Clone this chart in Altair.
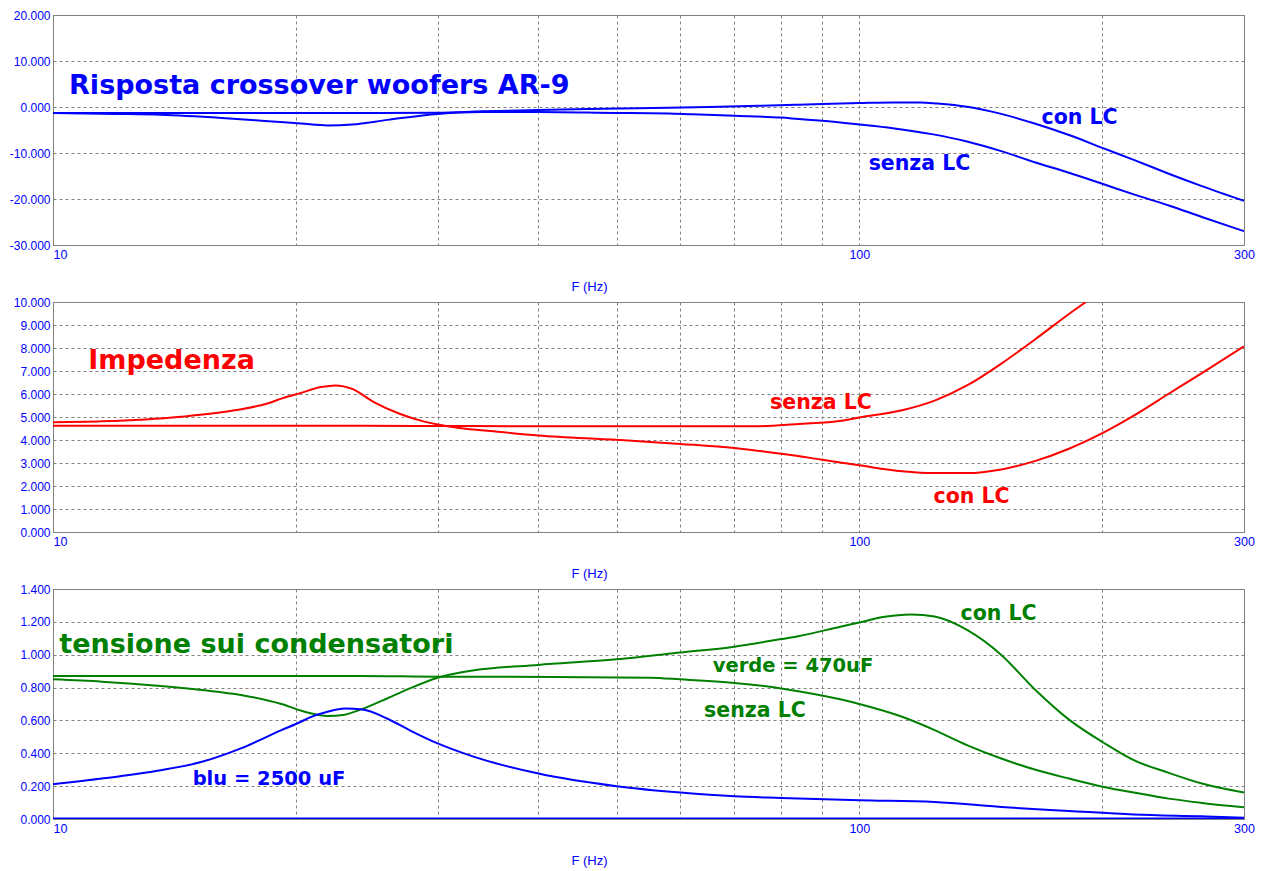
import altair as alt
import pandas as pd

# ---------------- Panel 1: risposta (dB) ----------------
p1_con_f = [10, 15, 20, 30, 34, 40, 46, 58, 65, 75, 84, 90, 100, 110, 119, 125, 136, 150, 165, 182, 201, 219, 242, 266, 300]
p1_con_v = [-1.3, -1.3, -1.3, -1.25, -0.95, -0.65, -0.45, -0.15, 0.0, 0.25, 0.5, 0.65, 0.85, 1.0, 1.0, 0.75, 0.05, -1.5, -3.6, -6.1, -9.0, -11.5, -14.5, -17.2, -20.4]
p1_senza_f = [10, 12, 13.6, 16.2, 18.5, 20.3, 21.9, 23.5, 26, 30, 34, 40, 50, 58, 62, 70, 80, 84, 90, 100, 110, 123, 136, 150, 165, 182, 201, 219, 242, 266, 300]
p1_senza_v = [-1.3, -1.5, -1.7, -2.4, -3.1, -3.6, -4.0, -3.8, -2.8, -1.5, -1.1, -1.1, -1.3, -1.4, -1.6, -1.9, -2.3, -2.6, -3.0, -3.8, -4.6, -5.9, -7.5, -9.6, -12.0, -14.3, -16.8, -19.0, -21.4, -23.9, -27.0]

# ---------------- Panel 2: impedenza (ohm) ----------------
p2_senza_f = [10, 20, 40, 60, 75, 84, 95, 100, 113, 124, 136, 150, 165, 182, 191]
p2_senza_v = [4.62, 4.62, 4.6, 4.6, 4.6, 4.7, 4.84, 4.98, 5.29, 5.71, 6.37, 7.32, 8.36, 9.48, 10.0]
p2_con_f = [10, 11.5, 14.4, 16.8, 18.5, 19.2, 20.3, 21.5, 22.4, 23.5, 25, 26.9, 28.8, 30, 31.9, 35.4, 40, 50, 60, 70, 80, 90, 100, 113, 124, 136, 150, 165, 182, 201, 219, 242, 266, 300]
p2_con_v = [4.77, 4.81, 5.01, 5.29, 5.6, 5.8, 6.05, 6.3, 6.37, 6.22, 5.65, 5.14, 4.81, 4.67, 4.52, 4.37, 4.2, 4.01, 3.83, 3.65, 3.4, 3.14, 2.9, 2.64, 2.56, 2.56, 2.72, 3.08, 3.62, 4.33, 5.06, 6.01, 6.91, 8.07]

# ---------------- Panel 3: tensione sui condensatori (V) ----------------
p3_gsenza_f = [10, 24, 30, 42, 55, 60, 70, 80, 84, 95, 100, 113, 124, 136, 150, 165, 182, 201, 219, 242, 266, 300]
p3_gsenza_v = [0.871, 0.871, 0.866, 0.865, 0.86, 0.85, 0.828, 0.795, 0.778, 0.727, 0.7, 0.622, 0.541, 0.45, 0.368, 0.301, 0.246, 0.195, 0.161, 0.124, 0.098, 0.071]
p3_gcon_f = [10, 11.5, 13.6, 15.3, 17.1, 19.2, 20.3, 20.8, 21.9, 23, 24.2, 26, 27.7, 30, 33.3, 40, 50, 60, 70, 80, 84, 95, 100, 107, 116, 124, 136, 150, 165, 182, 201, 219, 242, 266, 300]
p3_gcon_v = [0.85, 0.836, 0.81, 0.785, 0.755, 0.7, 0.66, 0.645, 0.627, 0.635, 0.67, 0.735, 0.795, 0.86, 0.905, 0.938, 0.972, 1.013, 1.049, 1.095, 1.113, 1.172, 1.196, 1.229, 1.245, 1.232, 1.151, 0.999, 0.79, 0.605, 0.464, 0.358, 0.281, 0.216, 0.161]
p3_bcon_f = [10, 11.5, 13.6, 15.3, 17.1, 19.2, 20.3, 20.8, 21.9, 23, 24.2, 26, 27.7, 30, 33.3, 40, 50, 60, 70, 80, 100, 124, 150, 182, 219, 266, 300]
p3_bcon_v = [0.212, 0.246, 0.297, 0.348, 0.43, 0.541, 0.592, 0.617, 0.653, 0.672, 0.667, 0.61, 0.54, 0.46, 0.378, 0.277, 0.2, 0.161, 0.138, 0.128, 0.114, 0.104, 0.073, 0.049, 0.027, 0.016, 0.008]
p3_bsenza_f = [10, 300]
p3_bsenza_v = [0.0, 0.0]

# ---------------- Annotations ----------------
p1_text = ["Risposta crossover woofers AR-9", "con LC", "senza LC"]
p1_text_f = [10.47, 168.3, 102.7]
p1_text_v = [2.83, -3.7, -13.7]
p1_text_size = [27, 20.5, 20.5]

p2_text = ["Impedenza", "senza LC", "con LC"]
p2_text_f = [11.06, 77.5, 123.6]
p2_text_v = [7.09, 5.36, 1.26]
p2_text_size = [27, 20.5, 20.5]

p3_text = ["tensione sui condensatori", "con LC", "verde = 470uF", "senza LC", "blu = 2500 uF"]
p3_text_f = [10.18, 133.5, 65.8, 64.2, 14.9]
p3_text_v = [1.013, 1.212, 0.897, 0.622, 0.21]
p3_text_size = [27, 20.5, 19.5, 20.5, 19.5]
p3_text_color = ["#008000", "#008000", "#008000", "#008000", "#0000FF"]

BLUE = "#0000FF"
RED = "#FF0000"
GREEN = "#008000"

X_VALUES = [10, 20, 30, 40, 50, 60, 70, 80, 90, 100, 200, 300]


def lines_df(series):
    rows = []
    for name, fs, vs, col, w in series:
        for f, v in zip(fs, vs):
            rows.append({"f": f, "v": v, "s": name, "c": col, "w": w})
    return pd.DataFrame(rows)


def text_df(texts, fs, vs, sizes, colors):
    return pd.DataFrame({"t": texts, "f": fs, "v": vs, "size": sizes, "c": colors})


def panel(ldf, tdf, ydomain, yvalues):
    x_axis = alt.Axis(
        values=X_VALUES,
        labelExpr="(datum.value == 10 || datum.value == 100 || datum.value == 300) ? datum.label : ''",
        format="d",
        title="F (Hz)",
        titleX=536,
        titleY=41,
        titleBaseline="middle",
        titleFontWeight="normal",
        titleFontSize=13,
        titleColor=BLUE,
        titleFont="Liberation Sans",
        ticks=False,
        domain=False,
        labelFlush=False,
        labelOverlap=False,
        labelAlign={"condition": {"test": "datum.value == 10", "value": "left"}, "value": "center"},
        labelPadding=3,
        labelBaseline="top",
        labelFontSize=12.5,
        grid=True,
    )
    y_axis = alt.Axis(
        values=yvalues,
        format=".3f",
        labelExpr="replace(datum.label, '\u2212', '-')",
        title=None,
        ticks=False,
        domain=False,
        labelPadding=3,
        grid=True,
        labelOverlap=False,
        labelFlush=False,
    )
    x = alt.X("f:Q", scale=alt.Scale(type="log", domain=[10, 300], nice=False), axis=x_axis)
    y = alt.Y("v:Q", scale=alt.Scale(domain=ydomain, nice=False, zero=False), axis=y_axis)
    lines = alt.Chart(ldf).mark_line(interpolate="monotone", clip=True).encode(
        x=x,
        y=y,
        detail="s:N",
        color=alt.Color("c:N", scale=None),
        strokeWidth=alt.StrokeWidth("w:Q", scale=None),
    )
    texts = alt.Chart(tdf).mark_text(
        align="left", baseline="alphabetic", font="DejaVu Sans", fontWeight="bold"
    ).encode(
        x=x,
        y=y,
        text="t:N",
        size=alt.Size("size:Q", scale=None),
        color=alt.Color("c:N", scale=None),
    )
    return alt.layer(lines, texts).properties(width=1191, height=230)


c1 = panel(
    lines_df([
        ("con", p1_con_f, p1_con_v, BLUE, 2),
        ("senza", p1_senza_f, p1_senza_v, BLUE, 2),
    ]),
    text_df(p1_text, p1_text_f, p1_text_v, p1_text_size, [BLUE] * 3),
    [-30, 20],
    [-30, -20, -10, 0, 10, 20],
)
c2 = panel(
    lines_df([
        ("con", p2_con_f, p2_con_v, RED, 2),
        ("senza", p2_senza_f, p2_senza_v, RED, 2),
    ]),
    text_df(p2_text, p2_text_f, p2_text_v, p2_text_size, [RED] * 3),
    [0, 10],
    list(range(0, 11)),
)
c3 = panel(
    lines_df([
        ("gsenza", p3_gsenza_f, p3_gsenza_v, GREEN, 2),
        ("gcon", p3_gcon_f, p3_gcon_v, GREEN, 2),
        ("bcon", p3_bcon_f, p3_bcon_v, BLUE, 2),
        ("bsenza", p3_bsenza_f, p3_bsenza_v, BLUE, 3),
    ]),
    text_df(p3_text, p3_text_f, p3_text_v, p3_text_size, p3_text_color),
    [0, 1.4],
    [0, 0.2, 0.4, 0.6, 0.8, 1.0, 1.2, 1.4],
)

chart = alt.vconcat(c1, c2, c3, spacing=1).properties(
    padding={"left": 0, "top": 0, "right": 10, "bottom": 0},
    background="white",
).configure_view(
    stroke="#808080", strokeWidth=1
).configure_axis(
    labelFont="Liberation Sans",
    labelFontSize=12,
    labelColor=BLUE,
    gridColor="#808080",
    gridDash=[3, 3],
    gridWidth=1,
    gridOpacity=1,
)

chart.save("out.html", embed_options={"renderer": "svg", "actions": False})
